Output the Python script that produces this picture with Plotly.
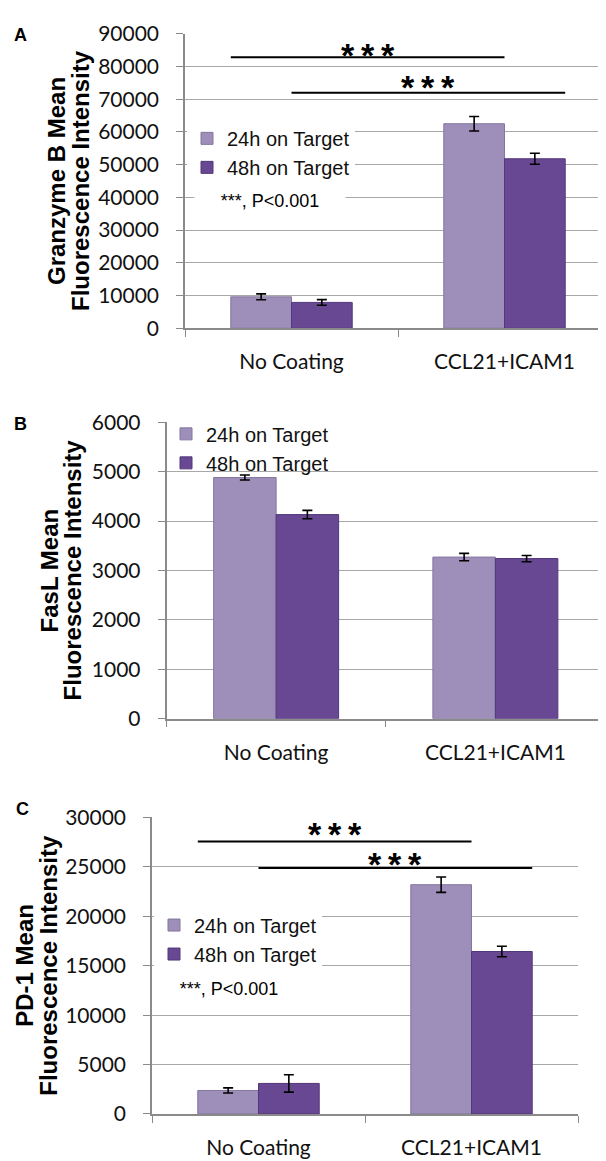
import plotly.graph_objects as go

# ---------------- data ----------------
categories = ["No Coating", "CCL21+ICAM1"]
series_names = ["24h on Target", "48h on Target"]

granzyme_24h = [9600, 62500]
granzyme_24h_err = [900, 2200]
granzyme_48h = [7900, 51800]
granzyme_48h_err = [850, 1700]

fasl_24h = [4880, 3270]
fasl_24h_err = [50, 75]
fasl_48h = [4130, 3240]
fasl_48h_err = [85, 63]

pd1_24h = [2380, 23200]
pd1_24h_err = [265, 780]
pd1_48h = [3090, 16440]
pd1_48h_err = [875, 530]

granzyme_ticks = [0, 10000, 20000, 30000, 40000, 50000, 60000, 70000, 80000, 90000]
fasl_ticks = [0, 1000, 2000, 3000, 4000, 5000, 6000]
pd1_ticks = [0, 5000, 10000, 15000, 20000, 25000, 30000]

# significance brackets: (series index compared, height of line, height of stars)
granzyme_sig = [(0, 82800, 85800), (1, 72000, 76200)]
pd1_sig = [(0, 27560, 29100), (1, 24900, 26100)]
sig_label = "*\u2009*\u2009*"
p_note = "***, P<0.001"

# ---------------- layout helpers ----------------
W, H = 606, 1161
def px(x):
    return x / W
def py(y):
    return 1 - y / H

C24 = "#9D8FB9"
C48 = "#684892"
C24_LINE = "#84769E"
C48_LINE = "#52377A"
GRID = "#A8A8A8"
AXIS = "#8A8A8A"
TICKFONT = dict(family="Lato", size=21, color="#111111")
XFONT = dict(family="Lato", size=21, color="#111111")
LEGFONT = dict(family="Liberation Sans", size=20, color="#111111")

BARGAP = 0.43
BW = (1 - BARGAP) / 2

panels = [
    dict(key="", letter="A", x=(177, 603), y=(12, 313), ymax=90000, ticks=granzyme_ticks,
         d24=granzyme_24h, e24=granzyme_24h_err, d48=granzyme_48h, e48=granzyme_48h_err,
         title=["Granzyme B Mean", "Fluorescence Intensity"], tx=(48, 72),
         letter_xy=(12, 13), legend="legend", leg_xy=(179, 99), leg_bg="white",
         note_xy=(262, 183), sig=granzyme_sig),
    dict(key="2", letter="B", x=(158.5, 597), y=(409, 712), ymax=6000, ticks=fasl_ticks,
         d24=fasl_24h, e24=fasl_24h_err, d48=fasl_48h, e48=fasl_48h_err,
         title=["FasL Mean", "Fluorescence Intensity"], tx=(41, 64),
         letter_xy=(12.5, 411), legend="legend2", leg_xy=(158, 401), leg_bg="rgba(0,0,0,0)",
         note_xy=None, sig=[]),
    dict(key="3", letter="C", x=(144, 570), y=(813, 1116), ymax=30000, ticks=pd1_ticks,
         d24=pd1_24h, e24=pd1_24h_err, d48=pd1_48h, e48=pd1_48h_err,
         title=["PD-1 Mean", "Fluorescence Intensity"], tx=(17, 41),
         letter_xy=(14, 804), legend="legend3", leg_xy=(146, 903), leg_bg="white",
         note_xy=(221, 988), sig=pd1_sig),
]

fig = go.Figure()
annotations = []
shapes = []
layout = dict(
    width=W, height=H, margin=dict(l=0, r=0, t=0, b=0),
    paper_bgcolor="white", plot_bgcolor="white",
    barmode="group", bargap=BARGAP, bargroupgap=0,
)

for p in panels:
    k = p["key"]
    xa, ya = "x" + k, "y" + k
    for name, vals, errs, col, lcol in [
        (series_names[0], p["d24"], p["e24"], C24, C24_LINE),
        (series_names[1], p["d48"], p["e48"], C48, C48_LINE),
    ]:
        fig.add_trace(go.Bar(
            x=categories, y=vals, name=name, xaxis=xa, yaxis=ya,
            marker=dict(color=col, line=dict(color=lcol, width=1)),
            error_y=dict(type="data", array=errs, visible=True, color="black",
                         thickness=1.6, width=5),
            legend=p["legend"], showlegend=True,
        ))
    layout["xaxis" + k] = dict(
        domain=[px(p["x"][0]), px(p["x"][1])], anchor=ya, type="category",
        showline=True, linecolor=AXIS, linewidth=1.5, showgrid=False,
        ticks="outside", tickson="boundaries", ticklen=7, tickcolor=AXIS, tickwidth=1.2,
        tickfont=XFONT, ticklabelstandoff=14, fixedrange=True,
    )
    layout["yaxis" + k] = dict(
        domain=[py(p["y"][1]), py(p["y"][0])], anchor=xa,
        range=[0, p["ymax"]], tickvals=p["ticks"], ticktext=[str(t) for t in p["ticks"]],
        showline=True, linecolor=AXIS, linewidth=1.5, showgrid=True, gridcolor=GRID,
        gridwidth=1.4, zeroline=False, ticks="outside", ticklen=7, tickcolor=AXIS,
        tickwidth=1.2, tickfont=TICKFONT, ticklabelstandoff=13, fixedrange=True,
    )
    layout[p["legend"]] = dict(
        x=px(p["leg_xy"][0]), y=py(p["leg_xy"][1]), xanchor="left", yanchor="top",
        bgcolor=p["leg_bg"], font=LEGFONT, itemwidth=30, tracegroupgap=0,
        traceorder="normal",
    )
    # y-axis title (two lines)
    ymid = py((p["y"][0] + p["y"][1]) / 2)
    for line, tx in zip(p["title"], p["tx"]):
        annotations.append(dict(
            text=line, x=px(tx), y=ymid, xref="paper", yref="paper", textangle=-90,
            showarrow=False, xanchor="center", yanchor="middle",
            font=dict(family="Liberation Sans", size=24, color="black", weight="bold"),
        ))
    # panel letter
    annotations.append(dict(
        text=p["letter"], x=px(p["letter_xy"][0]), y=py(p["letter_xy"][1]),
        xref="paper", yref="paper", showarrow=False, xanchor="center", yanchor="middle",
        font=dict(family="Liberation Sans", size=18, color="black", weight="bold"),
    ))
    if p["note_xy"]:
        annotations.append(dict(
            text=p_note, x=px(p["note_xy"][0]), y=py(p["note_xy"][1]),
            xref="paper", yref="paper", showarrow=False, xanchor="center", yanchor="middle",
            font=dict(family="Liberation Sans", size=18, color="black"),
            bgcolor="white", width=140, borderpad=5,
        ))
    # significance brackets
    for si, yline, ystar in p["sig"]:
        offset = -BW if si == 0 else 0.0
        x0 = 0 + offset
        x1 = 1 + offset + BW
        shapes.append(dict(type="line", xref=xa, yref=ya, x0=x0, x1=x1, y0=yline, y1=yline,
                           line=dict(color="black", width=2)))
        annotations.append(dict(
            text=sig_label, x=(x0 + x1) / 2, y=ystar, xref=xa, yref=ya, showarrow=False,
            xanchor="center", yanchor="middle", yshift=-8,
            font=dict(family="Liberation Sans", size=34, color="black", weight="bold"),
        ))

layout["annotations"] = annotations
layout["shapes"] = shapes
fig.update_layout(**layout)
fig.write_html("out.html")
